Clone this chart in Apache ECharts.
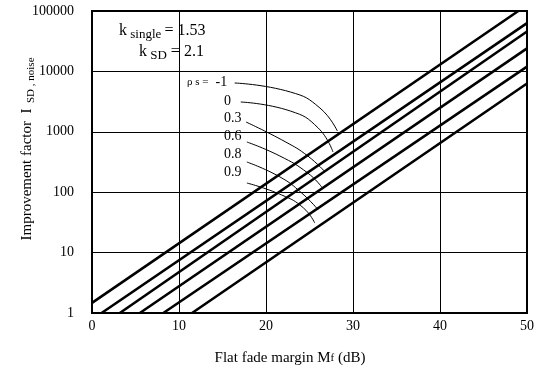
<!DOCTYPE html>
<html>
<head>
<meta charset="utf-8">
<script src="https://cdn.jsdelivr.net/npm/echarts@6/dist/echarts.min.js"></script>
<style>
  html, body { margin: 0; padding: 0; background: #fff; }
  #chart { width: 552px; height: 372px; }
</style>
</head>
<body>
<div id="chart"></div>
<script>
// correlation values, one straight line each
const rhoLabels = ["-1", "0", "0.3", "0.6", "0.8", "0.9"];
// start / end points of each line [Mf (dB), I]
const lineStart = [[0, 1.47], [1.1, 1], [3.2, 1], [5.5, 1], [8.2, 1], [11.5, 1]];
const lineEnd = [[49, 100000], [50, 63000], [50, 45700], [50, 24000], [50, 12000], [50, 6300]];
// leader curves from labels to their lines
const leaderMinus1 = [[16.4, 6427], [22.8, 4560], [26.2, 2478], [28.2, 1031]];
const leader0 = [[17.1, 3114], [22.8, 2208], [26.0, 1156], [27.7, 463]];
const leader03 = [[17.7, 1452], [22.2, 686], [24.8, 398], [26.8, 216]];
const leader06 = [[17.8, 678], [21.6, 397], [24.8, 208], [26.4, 122]];
const leader08 = [[17.8, 316], [21.6, 179], [24.1, 97], [26.0, 51]];
const leader09 = [[17.8, 142], [21.8, 90], [24.3, 55], [25.6, 31]];
const leaders = [leaderMinus1, leader0, leader03, leader06, leader08, leader09];

const serif = "Liberation Serif";
const chart = echarts.init(document.getElementById("chart"));

const series = [];
rhoLabels.forEach((r, i) => {
  series.push({
    name: "rho " + r,
    type: "line",
    data: [lineStart[i], lineEnd[i]],
    symbol: "none",
    lineStyle: { color: "#000", width: 2.6 },
    silent: true
  });
  series.push({
    name: "leader " + r,
    type: "line",
    data: leaders[i],
    smooth: 0.5,
    symbol: "none",
    lineStyle: { color: "#000", width: 1 },
    silent: true
  });
});

// main text + lowered subscript in one rich string
const mainStyle = { fontFamily: serif, fontSize: 16, fill: "#000", lineHeight: 20 };
const subStyle = { fontFamily: serif, fontSize: 13, fill: "#000", lineHeight: 12, verticalAlign: "bottom" };

const option = {
  animation: false,
  backgroundColor: "#fff",
  grid: { left: 92, right: 25, top: 11, bottom: 59 },
  xAxis: {
    type: "value",
    min: 0,
    max: 50,
    interval: 10,
    axisLine: { show: true, lineStyle: { color: "#000", width: 2 } },
    axisTick: { show: false },
    axisLabel: { color: "#000", fontFamily: serif, fontSize: 14, margin: 6 },
    splitLine: { show: true, lineStyle: { color: "#000", width: 1 } }
  },
  yAxis: {
    type: "log",
    logBase: 10,
    min: 1,
    max: 100000,
    axisLine: { show: true, lineStyle: { color: "#000", width: 2 } },
    axisTick: { show: false },
    axisLabel: {
      color: "#000", fontFamily: serif, fontSize: 14, margin: 18,
      formatter: v => String(Math.round(v))
    },
    splitLine: { show: true, lineStyle: { color: "#000", width: 1 } }
  },
  series: series,
  graphic: [
    // frame right / top
    { type: "rect", shape: { x: 92, y: 11, width: 435, height: 302 }, style: { fill: null, stroke: "#000", lineWidth: 2 }, silent: true },
    {
      type: "text", left: 119, top: 23,
      style: { text: "{k|k}{s| single }{k|= 1.53}", rich: { k: mainStyle, s: subStyle } }
    },
    {
      type: "text", left: 139, top: 44,
      style: { text: "{k|k}{s| SD}{k| = 2.1}", rich: { k: mainStyle, s: subStyle } }
    },
    {
      type: "text", left: 187, top: 75,
      style: {
        text: "{p|ρ s =}{v|  -1}",
        rich: {
          p: { fontFamily: serif, fontSize: 11, fill: "#000", lineHeight: 16 },
          v: { fontFamily: serif, fontSize: 14, fill: "#000", lineHeight: 16 }
        }
      }
    },
    { type: "text", left: 224, top: 94, style: { text: "0", font: "14px " + serif, fill: "#000" } },
    { type: "text", left: 224, top: 111, style: { text: "0.3", font: "14px " + serif, fill: "#000" } },
    { type: "text", left: 224, top: 129, style: { text: "0.6", font: "14px " + serif, fill: "#000" } },
    { type: "text", left: 224, top: 147, style: { text: "0.8", font: "14px " + serif, fill: "#000" } },
    { type: "text", left: 224, top: 165, style: { text: "0.9", font: "14px " + serif, fill: "#000" } },
    {
      type: "text", x: 27, y: 149, rotation: Math.PI / 2,
      style: {
        text: "{a|Improvement factor  I}{s|  SD , noise}",
        align: "center", verticalAlign: "middle",
        rich: {
          a: { fontFamily: serif, fontSize: 15, fill: "#000", lineHeight: 20 },
          s: { fontFamily: serif, fontSize: 11, fill: "#000", lineHeight: 12, verticalAlign: "bottom" }
        }
      }
    },
    {
      type: "text", x: 290, y: 358,
      style: {
        text: "{a|Flat fade margin M}{s|f}{a| (dB)}",
        align: "center", verticalAlign: "middle",
        rich: {
          a: { fontFamily: serif, fontSize: 15, fill: "#000" },
          s: { fontFamily: serif, fontSize: 11, fill: "#000" }
        }
      }
    }
  ]
};
chart.setOption(option);
</script>
</body>
</html>
